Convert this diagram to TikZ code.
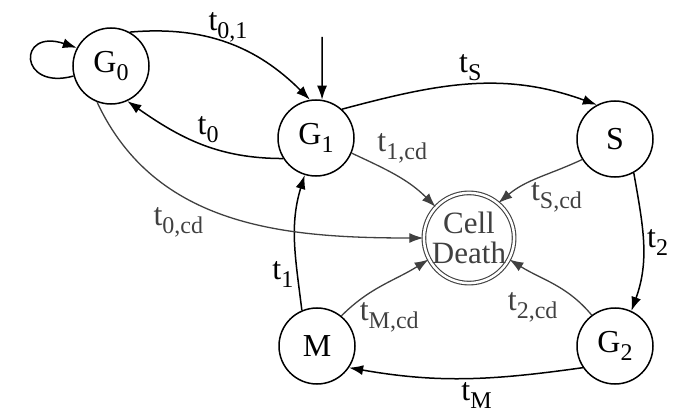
\documentclass[tikz,border=0pt]{standalone}
\usepackage{fontspec}
\setmainfont{Liberation Serif}
\usetikzlibrary{arrows.meta}
\newcommand{\lowsub}[1]{\raisebox{-8pt}{\fontsize{24}{26}\selectfont #1}}
\colorlet{cdgray}{black!75}

\begin{document}
\begin{tikzpicture}[x=1pt, y=1pt, >={Latex[length=14pt,width=10pt]}, line width=1.5pt,
  state/.style={draw, circle, minimum size=76pt, inner sep=0pt, font=\fontsize{32}{34}\selectfont},
  every node/.append style={font=\fontsize{32}{34}\selectfont},
  cdedge/.style={->, cdgray, line width=1.3pt}]
\useasboundingbox (0,0) rectangle (673,416);

\node[state] (G0) at (111,350) {G\lowsub{0}};
\node[state] (G1) at (316,278) {G\lowsub{1}};
\node[state] (S) at (615,277) {S};
\node[state] (M) at (317,70) {M};
\node[state] (G2) at (615,70) {G\lowsub{2}};
\node[circle, draw=cdgray, text=cdgray, double, double distance=2.5pt, line width=1.1pt, minimum size=84pt, inner sep=0pt, align=center, font=\fontsize{31}{30}\selectfont] (CD) at (469,178) {Cell\\Death};
\coordinate (start) at (322,379);

% cycle
\draw[->] (start) -- (G1.81);
\draw[->] (G0.195) .. controls +(-55,-15) and +(-60,20) .. (G0.152);
\draw[->] (G0.61) to[out=5, in=135] node[pos=0.5, above, inner sep=1pt] {t\lowsub{0,1}} (G1.99);
\draw[->] (G1.212) to[out=180, in=-35] node[pos=0.45, above] {t\lowsub{0}} (G0.295);
\draw[->] (G1.48) to[out=15, in=160] node[above] {t\lowsub{S}} (S.118);
\draw[->] (S.-61) to[out=-80, in=70] node[right] {t\lowsub{2}} (G2.65);
\draw[->] (G2.214) to[out=188, in=-10] node[pos=0.45, below] {t\lowsub{M}} (M.-34);
\draw[->] (M.113) to[out=97, in=253] node[pos=0.25, left] {t\lowsub{1}} (G1.253);

% cell death
\draw[cdedge] (G0.249) to[out=-65, in=180] node[pos=0.42, below left, inner sep=0pt] {t\lowsub{0,cd}} (CD.180);
\draw[cdedge] (G1.-23) to[out=-25, in=135] node[pos=0.25, above right, inner sep=1pt] {t\lowsub{1,cd}} (CD.137);
\draw[cdedge] (S.212) to[out=205, in=40] node[pos=0.6, below right, inner sep=0pt] {t\lowsub{S,cd}} (CD.50);
\draw[cdedge] (M.51) to[out=45, in=212] node[pos=0.2, below right, inner sep=1pt] {t\lowsub{M,cd}} (CD.208);
\draw[cdedge] (G2.127) to[out=130, in=-32] node[pos=0.4, below left] {t\lowsub{2,cd}} (CD.-28);
\end{tikzpicture}
\end{document}
